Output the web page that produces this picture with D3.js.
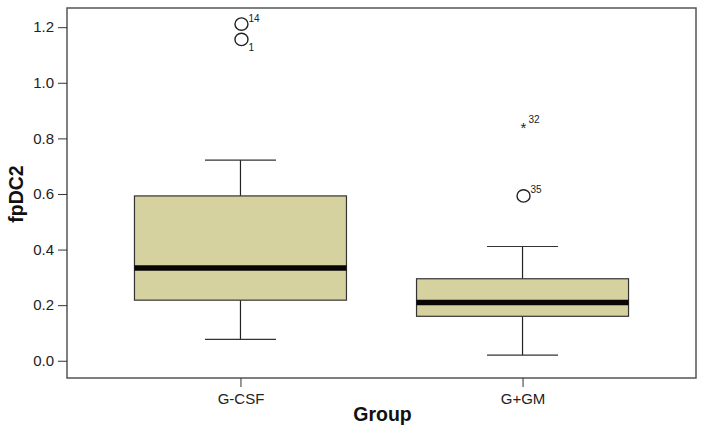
<!DOCTYPE html>
<html><head><meta charset="utf-8">
<script src="https://cdn.jsdelivr.net/npm/d3@7"></script>
<style>body{margin:0;background:#fff}svg{display:block}</style>
</head><body>
<script>
const groups = ["G-CSF", "G+GM"];
const lowerWhisker = [0.077, 0.020];
const q1 = [0.218, 0.160];
const median = [0.334, 0.210];
const q3 = [0.593, 0.295];
const upperWhisker = [0.722, 0.411];
// outliers: group, value, label, marker type, label position
const outlierGroup = ["G-CSF", "G-CSF", "G+GM", "G+GM"];
const outlierValue = [1.211, 1.156, 0.847, 0.593];
const outlierLabel = ["14", "1", "32", "35"];
const outlierType = ["circle", "circle", "star", "circle"];
const outlierLabelPos = ["sup", "sub", "sup", "sup"];
const yTicks = [0.0, 0.2, 0.4, 0.6, 0.8, 1.0, 1.2];

const W = 702, H = 444;
const m = {left: 67, right: 6, top: 8, bottom: 66};
const svg = d3.select("body").append("svg").attr("width", W).attr("height", H);
const font = "'Liberation Sans', Arial, sans-serif";

const y = d3.scaleLinear().domain([-0.062, 1.269]).range([H - m.bottom, m.top]);
const x = d3.scalePoint().domain(groups).range([m.left, W - m.right]).padding(0.615);

const boxW = 212, capW = 71;

// frame
svg.append("rect").attr("x", m.left).attr("y", m.top)
  .attr("width", W - m.left - m.right).attr("height", H - m.top - m.bottom)
  .attr("fill", "none").attr("stroke", "#555").attr("stroke-width", 1.5);

// y axis
const yAxis = svg.append("g").attr("transform", `translate(${m.left},0)`)
  .call(d3.axisLeft(y).tickValues(yTicks).tickFormat(d3.format(".1f")).tickSize(9).tickPadding(4));
yAxis.select(".domain").remove();
yAxis.selectAll("text").attr("font-family", font).attr("font-size", 15).attr("fill", "#222");
yAxis.selectAll("line").attr("stroke", "#333");

// x axis
const xAxis = svg.append("g").attr("transform", `translate(0,${H - m.bottom})`)
  .call(d3.axisBottom(x).tickSize(9).tickPadding(6));
xAxis.select(".domain").remove();
xAxis.selectAll("text").attr("font-family", font).attr("font-size", 15).attr("fill", "#222");
xAxis.selectAll("line").attr("stroke", "#333");

// axis titles
svg.append("text").attr("x", (m.left + W - m.right) / 2 + 1).attr("y", 421)
  .attr("text-anchor", "middle").attr("font-family", font).attr("font-weight", "bold")
  .attr("font-size", 19.5).attr("fill", "#111").text("Group");
svg.append("text").attr("transform", "translate(23,194) rotate(-90)")
  .attr("text-anchor", "middle").attr("font-family", font).attr("font-weight", "bold")
  .attr("font-size", 19.5).attr("fill", "#111").text("fpDC2");

// boxes
groups.forEach((g, i) => {
  const cx = x(g);
  const gg = svg.append("g");
  gg.append("line").attr("x1", cx).attr("x2", cx).attr("y1", y(upperWhisker[i])).attr("y2", y(q3[i]))
    .attr("stroke", "#222").attr("stroke-width", 1.2);
  gg.append("line").attr("x1", cx).attr("x2", cx).attr("y1", y(q1[i])).attr("y2", y(lowerWhisker[i]))
    .attr("stroke", "#222").attr("stroke-width", 1.2);
  [upperWhisker[i], lowerWhisker[i]].forEach(v => {
    gg.append("line").attr("x1", cx - capW / 2).attr("x2", cx + capW / 2).attr("y1", y(v)).attr("y2", y(v))
      .attr("stroke", "#333").attr("stroke-width", 1.2);
  });
  gg.append("rect").attr("x", cx - boxW / 2).attr("y", y(q3[i]))
    .attr("width", boxW).attr("height", y(q1[i]) - y(q3[i]))
    .attr("fill", "#d6d29f").attr("stroke", "#333").attr("stroke-width", 1.2);
  gg.append("line").attr("x1", cx - boxW / 2).attr("x2", cx + boxW / 2).attr("y1", y(median[i])).attr("y2", y(median[i]))
    .attr("stroke", "#0a0505").attr("stroke-width", 5.5);
});

// outliers
outlierValue.forEach((v, i) => {
  const cx = x(outlierGroup[i]) + 1, cy = y(v);
  if (outlierType[i] === "circle") {
    svg.append("ellipse").attr("cx", cx).attr("cy", cy).attr("rx", 6.5).attr("ry", 6.2)
      .attr("fill", "none").attr("stroke", "#222").attr("stroke-width", 1.4);
  } else {
    svg.append("text").attr("x", cx).attr("y", cy + 8).attr("text-anchor", "middle")
      .attr("font-family", font).attr("font-size", 15).attr("fill", "#222").text("*");
  }
  const dy = outlierLabelPos[i] === "sup" ? -2.5 : 12;
  const dx = outlierType[i] === "circle" ? 7 : 5;
  svg.append("text").attr("x", cx + dx).attr("y", cy + dy)
    .attr("font-family", font).attr("font-size", 10).attr("fill", "#222").text(outlierLabel[i]);
});
</script>
</body></html>
